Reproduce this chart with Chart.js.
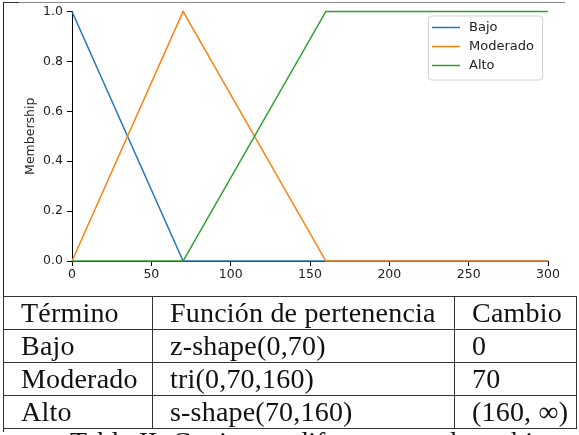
<!DOCTYPE html>
<html>
<head>
<meta charset="utf-8">
<script src="https://cdn.jsdelivr.net/npm/chart.js@4.4.0/dist/chart.umd.min.js"></script>
<style>
  html, body { margin: 0; padding: 0; background: #fff; }
  body { width: 579px; height: 435px; overflow: hidden; position: relative; }
  #wrap { position: absolute; left: 0; top: 0; width: 579px; height: 296px; }
  #borde-top { position: absolute; left: 3px; top: 2px; width: 562px; height: 0; border-top: 1px solid #8a8a8a; }
  #borde-top-l { position: absolute; left: 3px; top: 2px; width: 16px; height: 0; border-top: 1px solid #333; }
  #borde-left { position: absolute; left: 3px; top: 2px; width: 0; height: 430px; border-left: 1px solid #222; }
  table { position: absolute; left: 3px; top: 296px; border-collapse: collapse;
          font-family: "Liberation Serif", serif; font-size: 28px; letter-spacing: 0.2px; color: #111; }
  td { border: 1px solid #333; height: 32px; padding: 0 0 0 17px; line-height: 32px; white-space: nowrap; }
  #caption { position: absolute; left: 70px; top: 428px; line-height: 28px; font-family: "Liberation Serif", serif; font-size: 28px; color: #111; white-space: nowrap; }
</style>
</head>
<body>
<div id="wrap"><canvas id="grafica"></canvas></div>
<div id="borde-top"></div>
<div id="borde-top-l"></div>
<div id="borde-left"></div>
<table>
  <tr><td style="width:131px">Término</td><td style="width:284px">Función de pertenencia</td><td style="width:104px">Cambio</td></tr>
  <tr><td>Bajo</td><td>z-shape(0,70)</td><td>0</td></tr>
  <tr><td>Moderado</td><td>tri(0,70,160)</td><td>70</td></tr>
  <tr><td>Alto</td><td>s-shape(70,160)</td><td>(160, ∞)</td></tr>
</table>
<div id="caption">Tabla II: Conjuntos difusos para el cambio</div>
<script>
// Puntos del universo y grados de pertenencia
const universo = [0, 70, 160, 300];
const bajo = [1, 0, 0, 0];
const moderado = [0, 1, 0, 0];
const alto = [0, 0, 1, 1];
const nombres = ['Bajo', 'Moderado', 'Alto'];
const colores = ['#1f77b4', '#ff7f0e', '#2ca02c'];

const puntos = (vals) => universo.map((x, i) => ({ x: x, y: vals[i] }));

// Leyenda dibujada dentro del area del grafico (arriba a la derecha)
const leyendaInterna = {
  id: 'leyendaInterna',
  afterDatasetsDraw(chart) {
    const c = chart.ctx;
    const area = chart.chartArea;
    const w = 114, h = 64;
    const x0 = area.right - 6 - w, y0 = area.top + 4;
    c.save();
    c.fillStyle = 'rgba(255,255,255,0.8)';
    c.strokeStyle = '#d0d0d0';
    c.lineWidth = 1;
    c.beginPath();
    c.roundRect(x0 + 0.5, y0 + 0.5, w, h, 3);
    c.fill();
    c.stroke();
    c.font = '13px "DejaVu Sans"';
    c.textBaseline = 'middle';
    nombres.forEach((n, i) => {
      const yy = y0 + 12 + i * 19;
      c.strokeStyle = colores[i];
      c.lineWidth = 1.5;
      c.beginPath();
      c.moveTo(x0 + 4, yy);
      c.lineTo(x0 + 32, yy);
      c.stroke();
      c.fillStyle = '#222';
      c.fillText(n, x0 + 41, yy);
    });
    c.restore();
  }
};

const fuenteEje = { family: 'DejaVu Sans', size: 12.5 };

const ctx = document.getElementById('grafica').getContext('2d');
const grafica = new Chart(ctx, {
  type: 'line',
  data: {
    datasets: [
      { label: nombres[0], data: puntos(bajo), borderColor: colores[0], order: 2 },
      { label: nombres[1], data: puntos(moderado), borderColor: colores[1], order: 1 },
      { label: nombres[2], data: puntos(alto), borderColor: colores[2], order: 0 }
    ]
  },
  options: {
    responsive: true,
    maintainAspectRatio: false,
    animation: false,
    elements: {
      line: { borderWidth: 1.5, tension: 0, fill: false },
      point: { radius: 0 }
    },
    datasets: { line: { clip: false } },
    layout: { padding: { top: 11, right: 31, left: 0, bottom: 0 } },
    scales: {
      x: {
        type: 'linear', min: 0, max: 300,
        ticks: { stepSize: 50, color: '#222', font: fuenteEje, padding: 1, maxRotation: 0 },
        grid: { drawOnChartArea: false, drawTicks: true, tickLength: 5, color: '#000' },
        border: { color: '#000', width: 1 },
        afterFit(s) { s.height = 35; }
      },
      y: {
        min: 0, max: 1,
        ticks: { stepSize: 0.2, color: '#222', font: fuenteEje, padding: 4,
                 callback: (v) => v.toFixed(1) },
        grid: { drawOnChartArea: false, drawTicks: true, tickLength: 5, color: '#000' },
        border: { color: '#000', width: 1 },
        title: { display: true, text: 'Membership', color: '#222', font: { family: 'DejaVu Sans', size: 12.5 }, padding: { top: 23, bottom: 0 } },
        afterFit(s) { s.width = 72; }
      }
    },
    plugins: {
      legend: { display: false },
      tooltip: { enabled: false }
    }
  },
  plugins: [leyendaInterna]
});
</script>
</body>
</html>
